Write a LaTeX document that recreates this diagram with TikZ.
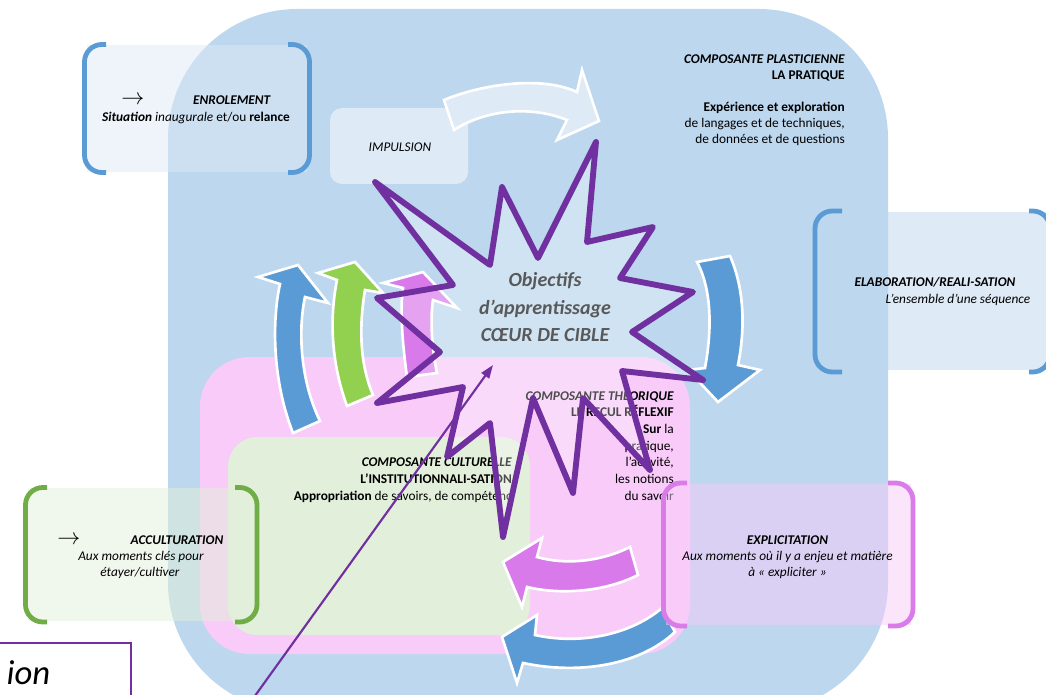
\documentclass[tikz,border=0pt]{standalone}
\usepackage{fontspec}
\setmainfont{Carlito}
\usetikzlibrary{arrows.meta}
\definecolor{bgblue}{HTML}{BDD7EE}
\definecolor{ltblue}{HTML}{DEEAF6}
\definecolor{pinkbg}{HTML}{F8CBF8}
\definecolor{greenbg}{HTML}{E2EFDA}
\definecolor{arrblue}{HTML}{5B9BD5}
\definecolor{arrgreen}{HTML}{92D050}
\definecolor{arrmag}{HTML}{D97AEB}
\definecolor{purp}{HTML}{7030A0}
\definecolor{brkgreen}{HTML}{70AD47}
\definecolor{brkpink}{HTML}{DA7BEA}
\definecolor{startxt}{HTML}{595959}
\begin{document}
\begin{tikzpicture}[x=0.75pt,y=-0.75pt,
  txt/.style={inner sep=0pt, font=\fontsize{10}{12}\selectfont},
  arrowsym/.style={inner sep=0pt, font=\fontsize{16}{18}\selectfont},
  startext/.style={inner sep=0pt, text=startxt, font=\fontsize{15}{20}\selectfont\bfseries\itshape},
  brk/.style={line width=3.6pt, rounded corners=13pt, line cap=butt},
  bigarrow/.style={draw=white, line width=2pt, line join=miter},
]
\useasboundingbox (0,0) rectangle (1046,695);
\clip (0,0) rectangle (1046,695);

% ELABORATION fill (under the big blue shape)
\fill[ltblue] (818,212) rectangle (1048,370);

% big blue, pink, green areas
\fill[bgblue, rounded corners=97pt] (168,9) rectangle (888,712);
\fill[pinkbg, rounded corners=37pt] (200,357) rectangle (690,654);
\fill[greenbg, rounded corners=22pt] (228,437) rectangle (530,635);

% IMPULSION
\fill[ltblue, rounded corners=9pt] (330,108) rectangle (468,184);
\node[txt, font=\fontsize{10}{12}\selectfont\itshape] (impulsion) at (400,147) {IMPULSION};

% white curved arrow (top)
\draw[bigarrow, fill=ltblue] (444,100) .. controls (480,85) and (540,75) .. (577,92) -- (582,70) -- (599,121) -- (557,140) -- (567,120) .. controls (530,105) and (485,110) .. (454,130) -- cycle;

% COMPOSANTE PLASTICIENNE
\node[txt, anchor=mid east] (cp1) at (845,60) {\textbf{\textit{COMPOSANTE PLASTICIENNE}}};
\node[txt, anchor=mid east] (cp2) at (845,76) {\textbf{LA PRATIQUE}};
\node[txt, anchor=mid east] (cp3) at (845,108) {\textbf{Expérience et exploration}};
\node[txt, anchor=mid east] (cp4) at (845,124) {de langages et de techniques,};
\node[txt, anchor=mid east] (cp5) at (845,140) {de données et de questions};

% COMPOSANTE CULTURELLE
\node[txt, anchor=mid east] (cc1) at (512,463) {\textbf{\textit{COMPOSANTE CULTURELLE}}};
\node[txt, anchor=mid east] (cc2) at (512,480) {\textbf{L’INSTITUTIONNALI-SATION}};
\node[txt, anchor=mid east] (cc3) at (512,497) {\textbf{Appropriation} de savoirs, de compétenc};

% COMPOSANTE THEORIQUE
\node[txt, anchor=mid east] (ct1) at (674,397) {\textbf{\textit{COMPOSANTE THEORIQUE}}};
\node[txt, anchor=mid east] (ct2) at (674,413) {\textbf{LE RECUL RÉFLEXIF}};
\node[txt, anchor=mid east] (ct3) at (674,430) {\textbf{Sur} la};
\node[txt, anchor=mid east] (ct4) at (674,447) {pratique,};
\node[txt, anchor=mid east] (ct5) at (674,463) {l’activité,};
\node[txt, anchor=mid east] (ct6) at (674,480) {les notions};
\node[txt, anchor=mid east] (ct7) at (674,497) {du savoir};

% big curved arrows
\draw[bigarrow, fill=arrblue] (293,433) .. controls (272,380) and (272,320) .. (280,284) -- (258,277) -- (298,265) -- (328,303) -- (305,297) .. controls (298,330) and (300,380) .. (320,421) -- cycle;
\draw[bigarrow, fill=arrgreen] (347,406) .. controls (330,360) and (330,315) .. (337,280) -- (318,273) -- (355,262) -- (383,293) -- (365,290) .. controls (360,320) and (358,360) .. (373,395) -- cycle;
\draw[bigarrow, fill=arrmag] (407,377) .. controls (402,340) and (400,310) .. (403,288) -- (383,283) -- (423,272) -- (457,308) -- (433,300) .. controls (430,320) and (432,350) .. (437,373) -- cycle;
\draw[bigarrow, fill=arrblue] (697,262) -- (730,256) .. controls (745,290) and (745,330) .. (738,365) -- (760,370) -- (718,402) -- (688,370) -- (705,368) .. controls (712,330) and (712,290) .. (697,262) -- cycle;
\draw[bigarrow, fill=arrmag] (630,547) .. controls (600,562) and (565,565) .. (537,557) -- (542,538) -- (503,562) -- (522,607) -- (527,587) .. controls (560,595) and (605,592) .. (638,575) -- cycle;
\draw[bigarrow, fill=arrblue] (662,608) .. controls (630,635) and (580,645) .. (535,635) -- (537,615) -- (502,637) -- (517,683) -- (523,663) .. controls (580,675) and (640,665) .. (675,632) -- cycle;

% ENROLEMENT box
\fill[ltblue, opacity=0.5] (87,45) rectangle (307,172);
\draw[brk, arrblue] (106,44.5) -- (84.5,44.5) -- (84.5,172.5) -- (106,172.5);
\draw[brk, arrblue] (288,44.5) -- (309.5,44.5) -- (309.5,172.5) -- (288,172.5);
\node[arrowsym] (enra) at (133,100) {$\rightarrow$};
\node[txt, anchor=mid] (enr1) at (232,101) {\textbf{\textit{ENROLEMENT}}};
\node[txt, anchor=mid] (enr2) at (196,118) {\textbf{\textit{Situation}} \textit{inaugurale} et/ou \textbf{relance}};

% ELABORATION box
\draw[brk, arrblue] (842,211) -- (815,211) -- (815,372) -- (842,372);
\draw[brk, arrblue] (1029,211) -- (1050,211) -- (1050,372) -- (1029,372);
\node[txt, anchor=mid] (ela1) at (935,283) {\textbf{\textit{ELABORATION/REALI-SATION}}};
\node[txt, anchor=mid] (ela2) at (958,300) {\textit{L’ensemble d’une séquence}};

% ACCULTURATION box
\fill[greenbg, opacity=0.5] (28,488) rectangle (255,621);
\draw[brk, brkgreen] (47,487.5) -- (25.5,487.5) -- (25.5,622) -- (47,622);
\draw[brk, brkgreen] (235,487.5) -- (257,487.5) -- (257,622) -- (235,622);
\node[arrowsym] (acca) at (69,540) {$\rightarrow$};
\node[txt, anchor=mid] (acc1) at (177,541) {\textbf{\textit{ACCULTURATION}}};
\node[txt, anchor=mid] (acc2) at (141,557) {\textit{Aux moments clés pour}};
\node[txt, anchor=mid] (acc3) at (140,573) {\textit{étayer/cultiver}};

% EXPLICITATION box
\fill[pinkbg, opacity=0.5] (666,484) rectangle (911,625);
\draw[brk, brkpink] (687,483) -- (663.5,483) -- (663.5,626) -- (687,626);
\draw[brk, brkpink] (888,483) -- (913,483) -- (913,626) -- (888,626);
\node[txt, anchor=mid] (exp1) at (787.5,541) {\textbf{\textit{EXPLICITATION}}};
\node[txt, anchor=mid] (exp2) at (787.5,557) {\textit{Aux moments où il y a enjeu et matière}};
\node[txt, anchor=mid] (exp3) at (787.5,573) {\textit{à « expliciter »}};

% star
\draw[draw=purp, line width=4.4pt, fill=white, fill opacity=0.3, line join=round]
 (375,182) -- (490,265) -- (502,187) -- (538,258) -- (596,142) -- (587,242) -- (653,227) -- (620,278) -- (693,292) -- (632,332) -- (703,380) -- (622,371) -- (650,470) -- (583,398) -- (573,493) -- (533,398) -- (503,537) -- (490,423) -- (447,457) -- (463,387) -- (377,403) -- (440,352) -- (377,298) -- (453,285) -- cycle;
\node[startext, anchor=mid] (obj1) at (545,283) {Objectifs};
\node[startext, anchor=mid] (obj2) at (545,311) {d’apprentissage};
\node[startext, anchor=mid] (obj3) at (545,338) {CŒUR DE CIBLE};

% bottom-left box and thin arrow
\draw[purp, line width=1.5pt] (-5,643) rectangle (131,712);
\node[inner sep=1pt, anchor=base west, font=\fontsize{26}{30}\selectfont\itshape] (ion) at (5,684) {ion};
\coordinate (ptail) at (252,700);
\coordinate (ptip) at (493,365);
\draw[purp, line width=1.6pt, -{Triangle[length=10pt,width=7pt]}] (ptail) -- (ptip);
\end{tikzpicture}
\end{document}
